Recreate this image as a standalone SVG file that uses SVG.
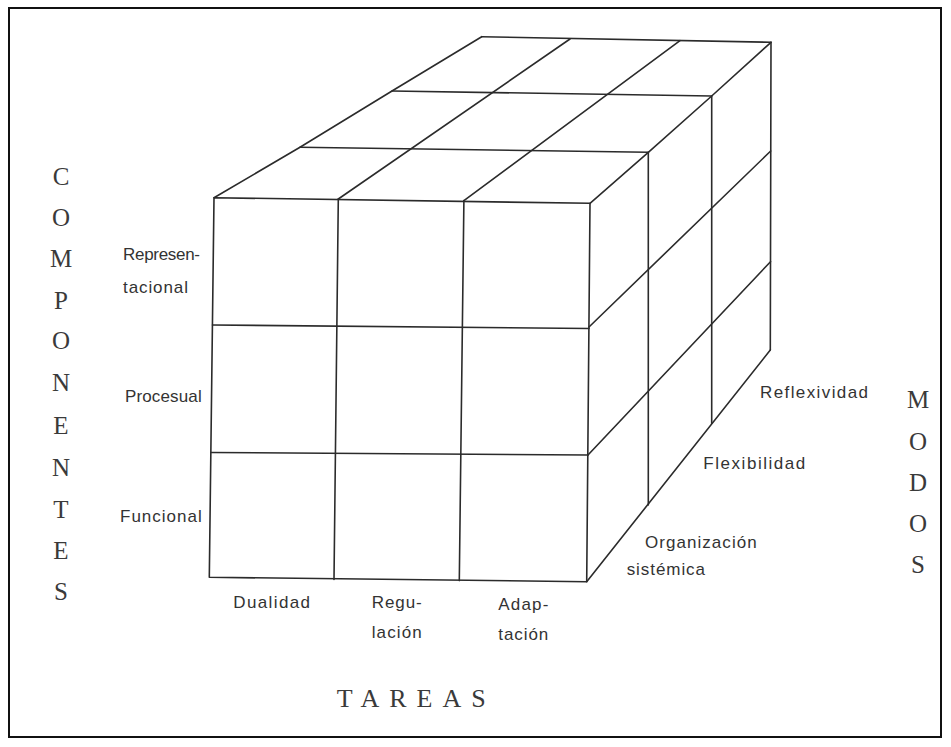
<svg xmlns="http://www.w3.org/2000/svg" width="951" height="747" viewBox="0 0 951 747">
<style>
.ln{fill:none;stroke:#2b2b2b;stroke-width:1.6;stroke-linejoin:round;stroke-linecap:round}
.big{font-family:"Liberation Serif",serif;font-size:25px;fill:#3a3a3a;text-anchor:middle}
.lab{font-family:"Liberation Sans",sans-serif;font-size:17px;fill:#333}
</style>
<rect x="0" y="0" width="951" height="747" fill="#fff"/>
<rect x="9" y="8" width="932" height="729" fill="none" stroke="#111" stroke-width="2"/>
<g id="cube">
<g id="front-face" class="ln">
<polygon points="214,197.7 590,203.3 586.7,581.7 209.3,577.3"/>
<line x1="338.3" y1="199" x2="334" y2="579.5"/>
<line x1="463.9" y1="200.6" x2="459.3" y2="580.6"/>
<line x1="212.5" y1="325" x2="589" y2="328.5"/>
<line x1="211" y1="452.5" x2="588" y2="455"/>
</g>
<g id="top-face" class="ln">
<line x1="481.7" y1="36.7" x2="771" y2="42.3"/>
<polyline points="214,197.7 300,147.3 392,91 481.7,36.7"/>
<line x1="300" y1="147.3" x2="648.3" y2="152.3"/>
<line x1="392" y1="91" x2="711.7" y2="96"/>
<line x1="338.3" y1="199" x2="570" y2="39"/>
<line x1="463.9" y1="200.6" x2="680" y2="40.7"/>
<polyline points="590,203.3 648.3,152.3 711.7,96 771,42.3"/>
</g>
<g id="right-face" class="ln">
<line x1="648.3" y1="152.3" x2="648.3" y2="505"/>
<line x1="711.7" y1="96" x2="711.7" y2="423.5"/>
<line x1="771" y1="42.3" x2="770.3" y2="350"/>
<line x1="589" y1="327" x2="770.7" y2="151"/>
<line x1="588" y1="455" x2="770.5" y2="261.7"/>
<line x1="586.7" y1="581.7" x2="770.3" y2="350"/>
</g>
</g>
<g id="componentes-axis">
<text class="big" x="61" y="185">C</text>
<text class="big" x="61" y="225.5">O</text>
<text class="big" x="61" y="267">M</text>
<text class="big" x="61" y="308.5">P</text>
<text class="big" x="61" y="349">O</text>
<text class="big" x="61" y="391">N</text>
<text class="big" x="61" y="434">E</text>
<text class="big" x="61" y="475.5">N</text>
<text class="big" x="61" y="517.5">T</text>
<text class="big" x="61" y="559">E</text>
<text class="big" x="61" y="599.5">S</text>
</g>
<g id="modos-axis">
<text class="big" x="918" y="408">M</text>
<text class="big" x="918" y="450">O</text>
<text class="big" x="918" y="491">D</text>
<text class="big" x="918" y="532">O</text>
<text class="big" x="918" y="573">S</text>
</g>
<g id="tareas-axis">
<text x="336.7" y="707" font-family="Liberation Serif, serif" font-size="26" fill="#3a3a3a" letter-spacing="10">TAREAS</text>
</g>
<g id="componentes-labels" class="lab">
<text x="123" y="259.5" textLength="77">Represen-</text>
<text x="123" y="293" textLength="65">tacional</text>
<text x="125" y="401.5" textLength="76.7">Procesual</text>
<text x="120" y="522" textLength="81.7">Funcional</text>
</g>
<g id="tareas-labels" class="lab">
<text x="233.3" y="608.3" textLength="76.7">Dualidad</text>
<text x="371.7" y="608.3" textLength="50">Regu-</text>
<text x="371.7" y="638.3" textLength="50">lación</text>
<text x="498.3" y="610" textLength="50">Adap-</text>
<text x="498.3" y="640" textLength="50">tación</text>
</g>
<g id="modos-labels" class="lab">
<text x="760" y="398.3" textLength="108">Reflexividad</text>
<text x="703.3" y="469.3" textLength="102">Flexibilidad</text>
<text x="645" y="548.3" textLength="111.7">Organización</text>
<text x="626.7" y="575" textLength="78.3">sistémica</text>
</g>
</svg>
